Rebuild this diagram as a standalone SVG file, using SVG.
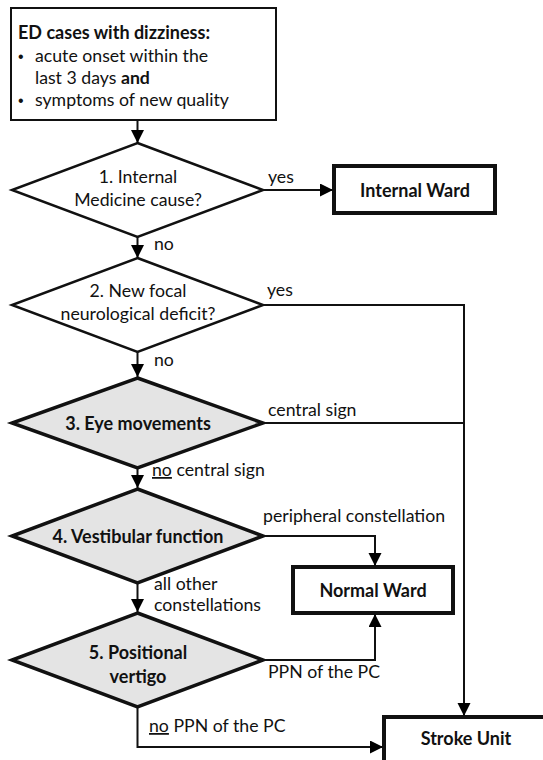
<svg xmlns="http://www.w3.org/2000/svg" width="543" height="760" viewBox="0 0 543 760">
<defs>
<marker id="arr" markerUnits="userSpaceOnUse" markerWidth="14" markerHeight="14" refX="13" refY="6.5" orient="auto">
<path d="M0,0 L13,6.5 L0,13 z" fill="#000"/>
</marker>
<style>
text{font-family:Lato,"Liberation Sans",Arial,sans-serif;font-size:17.7px;fill:#111}
.b{font-weight:bold;font-size:18px}
.bul{font-family:"Liberation Sans",Arial,sans-serif;font-size:16px}
.c{text-anchor:middle}
.con{fill:none;stroke:#111;stroke-width:2}
.box{fill:#fff;stroke:#111;stroke-width:2}
.tbox{fill:#fff;stroke:#111;stroke-width:4}
.dw{fill:#fff;stroke:#111;stroke-width:2.5;stroke-linejoin:miter}
.dg{fill:#e4e4e4;stroke:#111;stroke-width:3.5;stroke-linejoin:miter}
</style>
</defs>
<rect width="543" height="760" fill="#fff"/>

<g id="start">
<rect class="box" x="11" y="8" width="265" height="112"/>
<text class="b" x="18" y="39" font-size="17.4">ED cases with dizziness:</text>
<text class="bul" x="18" y="62">•</text><text x="35" y="62">acute onset within the</text>
<text x="35" y="84">last 3 days <tspan font-weight="bold">and</tspan></text>
<text class="bul" x="18" y="106">•</text><text x="35" y="106">symptoms of new quality</text>
</g>

<g id="d1">
<polygon class="dw" points="137.5,143 263,190 137.5,237 12,190"/>
<text class="c" x="138" y="183">1. Internal</text>
<text class="c" x="138" y="206">Medicine cause?</text>
</g>

<g id="internal">
<rect class="tbox" x="334" y="166" width="161" height="47"/>
<text class="b c" x="415" y="197">Internal Ward</text>
</g>

<g id="d2">
<polygon class="dw" points="137.5,258 263,305 137.5,352 12,305"/>
<text class="c" x="138" y="297">2. New focal</text>
<text class="c" x="138" y="320">neurological deficit?</text>
</g>

<g id="d3">
<polygon class="dg" points="137.5,378 263,423 137.5,468 12,423"/>
<text class="b c" x="138" y="430">3. Eye movements</text>
</g>

<g id="d4">
<polygon class="dg" points="137.5,489 263,536 137.5,583 12,536"/>
<text class="b c" x="138" y="543">4. Vestibular function</text>
</g>

<g id="normal">
<rect class="tbox" x="293" y="567" width="160" height="46"/>
<text class="b c" x="373" y="597">Normal Ward</text>
</g>

<g id="d5">
<polygon class="dg" points="137.5,613 263,660 137.5,707 12,660"/>
<text class="b c" x="138" y="659">5. Positional</text>
<text class="b c" x="138" y="683">vertigo</text>
</g>

<g id="stroke">
<rect class="tbox" x="384" y="717" width="200" height="100"/>
<text class="b c" x="466" y="745">Stroke Unit</text>
</g>

<g id="connectors">
<path class="con" d="M137.5,120 V143" marker-end="url(#arr)"/>
<path class="con" d="M263,190 H333" marker-end="url(#arr)"/>
<path class="con" d="M137.5,237 V258" marker-end="url(#arr)"/>
<path class="con" d="M263,305 H464 V716" marker-end="url(#arr)"/>
<path class="con" d="M137.5,352 V377" marker-end="url(#arr)"/>
<path class="con" d="M263,423 H464"/>
<path class="con" d="M137.5,468 V488" marker-end="url(#arr)"/>
<path class="con" d="M263,536 H375 V566" marker-end="url(#arr)"/>
<path class="con" d="M137.5,583 V612" marker-end="url(#arr)"/>
<path class="con" d="M263,660 H375 V614" marker-end="url(#arr)"/>
<path class="con" d="M137.5,707 V747 H383" marker-end="url(#arr)"/>
<text x="268" y="183">yes</text>
<text x="154" y="250">no</text>
<text x="267" y="296">yes</text>
<text x="154" y="366">no</text>
<text x="268" y="416">central sign</text>
<text x="152" y="476"><tspan text-decoration="underline">no</tspan> central sign</text>
<text x="263" y="522">peripheral constellation</text>
<text x="154" y="590">all other</text>
<text x="154" y="611">constellations</text>
<text x="268" y="678">PPN of the PC</text>
<text x="149" y="732"><tspan text-decoration="underline">no</tspan> PPN of the PC</text>
</g>
</svg>
